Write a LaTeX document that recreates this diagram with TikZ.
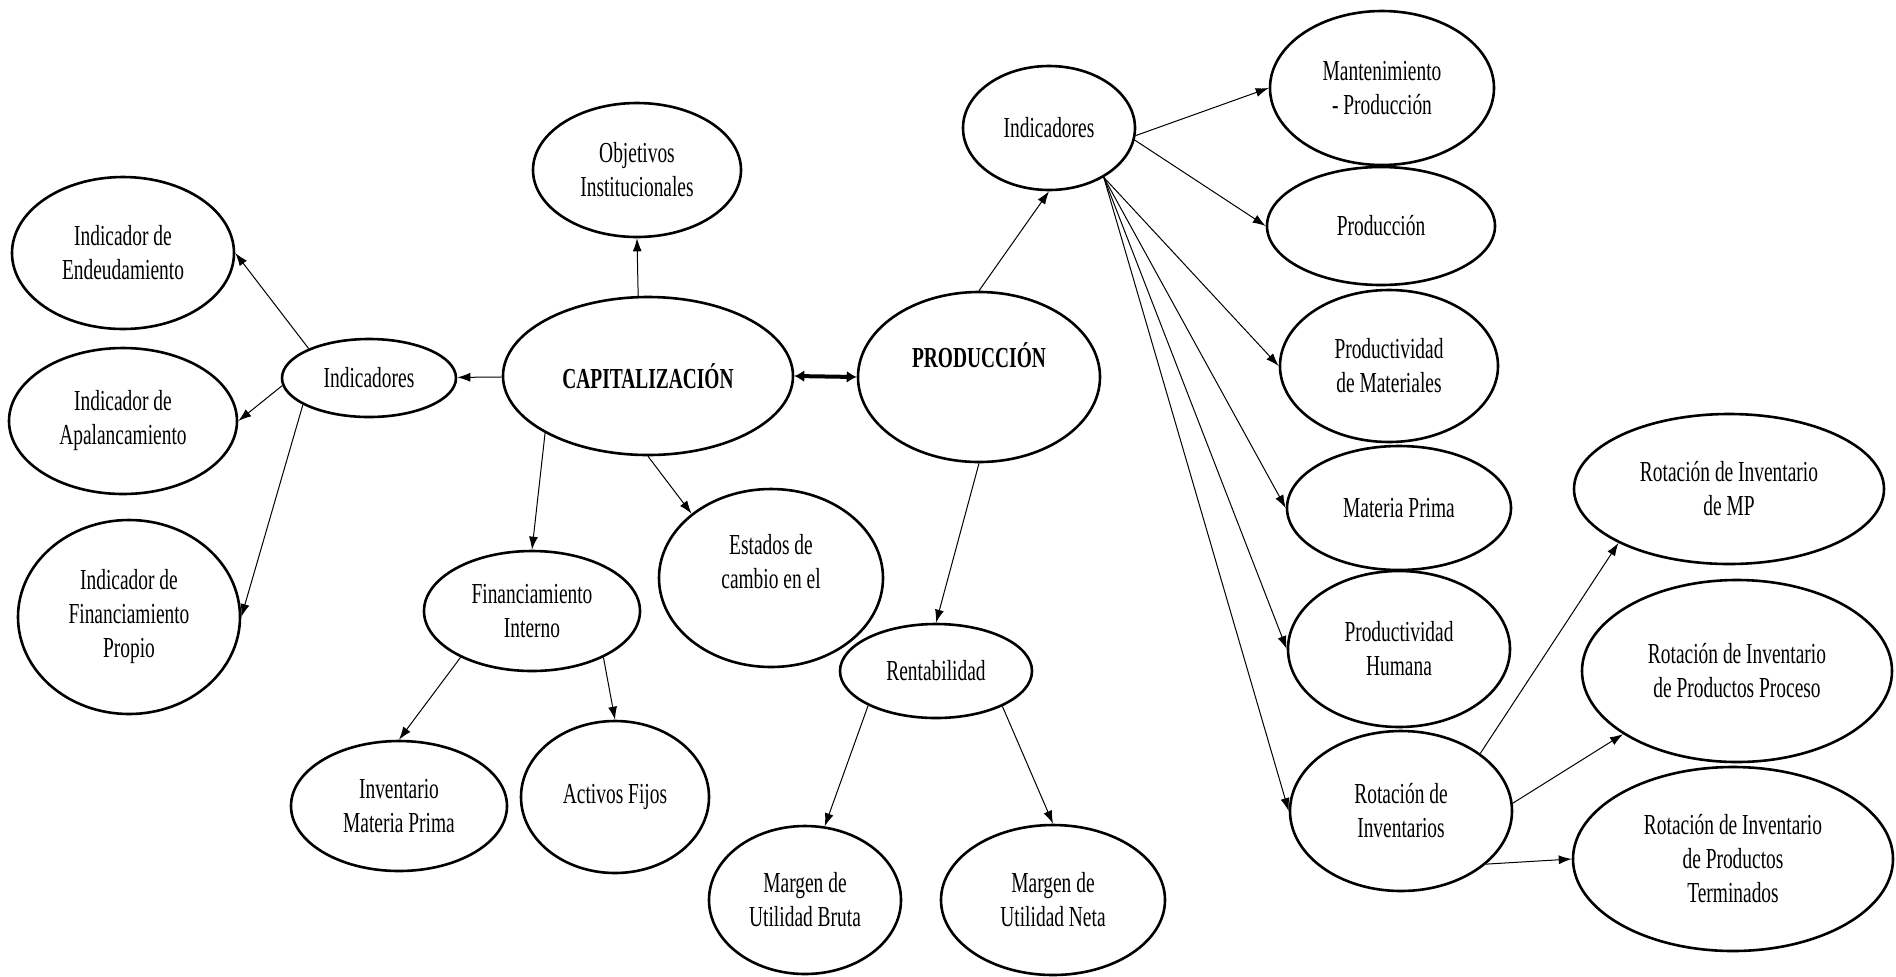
\documentclass[tikz,border=0pt]{standalone}
\usepackage{fontspec}
\setmainfont[FakeStretch=0.67]{Liberation Serif}
\usetikzlibrary{shapes.geometric,arrows.meta}

\begin{document}
\begin{tikzpicture}[x=0.5pt,y=-0.5pt,
    elip/.style={draw,ellipse,line width=1.3pt,inner sep=0pt,align=center,
      font=\fontsize{14.5}{17}\selectfont},
    flecha/.style={-{Latex[length=6.5pt,width=4.5pt]},line width=0.5pt}]
  \useasboundingbox (0,0) rectangle (1896,976);

  % lado de capitalizacion
  \node[elip,minimum width=145pt,minimum height=79pt,font=\fontsize{14.5}{17}\selectfont\bfseries] (cap) at (648,376) {CAPITALIZACIÓN};
  \node[elip,minimum width=87pt,minimum height=39pt] (ind1) at (369,378) {Indicadores};
  \node[elip,minimum width=111pt,minimum height=76pt] (ende) at (123,253) {Indicador de\\Endeudamiento};
  \node[elip,minimum width=114pt,minimum height=73pt] (apal) at (123,421) {Indicador de\\Apalancamiento};
  \node[elip,minimum width=111pt,minimum height=97pt] (fprop) at (129,617) {Indicador de\\Financiamiento\\Propio};
  \node[elip,minimum width=104pt,minimum height=67pt] (obj) at (637,170) {Objetivos\\Institucionales};
  \node[elip,minimum width=112pt,minimum height=89pt] (est) at (771,578) {Estados de\\cambio en el\\\mbox{}};
  \node[elip,minimum width=108pt,minimum height=60pt] (fint) at (532,611) {Financiamiento\\Interno};
  \node[elip,minimum width=108pt,minimum height=65pt] (invmp) at (399,806) {Inventario\\Materia Prima};
  \node[elip,minimum width=94pt,minimum height=76pt] (act) at (615,797) {Activos Fijos};

  % lado de produccion
  \node[elip,minimum width=121pt,minimum height=85pt,font=\fontsize{14.5}{17}\selectfont\bfseries] (prod) at (979,377) {PRODUCCIÓN\\\strut};
  \node[elip,minimum width=86pt,minimum height=62pt] (ind2) at (1049,128) {Indicadores};
  \node[elip,minimum width=96pt,minimum height=47pt] (rent) at (936,671) {Rentabilidad};
  \node[elip,minimum width=96pt,minimum height=74pt] (bruta) at (805,900) {Margen de\\Utilidad Bruta};
  \node[elip,minimum width=112pt,minimum height=75pt] (neta) at (1053,900) {Margen de\\Utilidad Neta};
  \node[elip,minimum width=112pt,minimum height=77pt] (mant) at (1382,88) {Mantenimiento\\- Producción};
  \node[elip,minimum width=114pt,minimum height=59pt] (produ) at (1381,226) {Producción};
  \node[elip,minimum width=109pt,minimum height=76pt] (pmat) at (1389,366) {Productividad\\de Materiales};
  \node[elip,minimum width=112pt,minimum height=62pt] (mprima) at (1399,508) {Materia Prima};
  \node[elip,minimum width=111pt,minimum height=78pt] (phum) at (1399,649) {Productividad\\Humana};
  \node[elip,minimum width=111pt,minimum height=80pt] (rinv) at (1401,811) {Rotación de\\Inventarios};
  \node[elip,minimum width=155pt,minimum height=75pt] (rmp) at (1729,489) {Rotación de Inventario\\de MP};
  \node[elip,minimum width=155pt,minimum height=91pt] (rproc) at (1737,671) {Rotación de Inventario\\de Productos Proceso};
  \node[elip,minimum width=160pt,minimum height=92pt] (rterm) at (1733,859) {Rotación de Inventario\\de Productos\\Terminados};

  \draw[flecha] (cap) -- (ind1);
  \draw[flecha] (ind1.154) -- (ende.east);
  \draw[flecha] (ind1.185) -- (apal.east);
  \draw[flecha] (ind1.-158) -- (fprop.east);
  \draw[flecha] (cap.97) -- (obj.south);
  \draw[flecha] (cap.-151) -- (fint.north);
  \draw[flecha] (cap.south) -- (est.141);
  \draw[flecha] (fint.-147) -- (invmp.north);
  \draw[flecha] (fint.-33) -- (act.north);
  \draw[{Latex[length=5pt,width=6pt]}-{Latex[length=5pt,width=6pt]},line width=2pt] (cap.east) -- (prod.west);

  \draw[flecha] (prod.north) -- (ind2.south);
  \draw[flecha] (prod.south) -- (rent.north);
  \draw[flecha] (rent.-153) -- (bruta.75);
  \draw[flecha] (rent.-28) -- (neta.north);
  \draw[flecha] (ind2.-5) -- (mant.west);
  \draw[flecha] (ind2.-8) -- (produ.west);
  \draw[flecha] (ind2.-42) -- (pmat.west);
  \draw[flecha] (ind2.-42) -- (mprima.west);
  \draw[flecha] (ind2.-42) -- (phum.west);
  \draw[flecha] (ind2.-42) -- (rinv.west);
  \draw[flecha] (rinv.36) -- (rmp.-154);
  \draw[flecha] (rinv.4) -- (rproc.-151);
  \draw[flecha] (rinv.-32) -- (rterm.west);
\end{tikzpicture}
\end{document}
